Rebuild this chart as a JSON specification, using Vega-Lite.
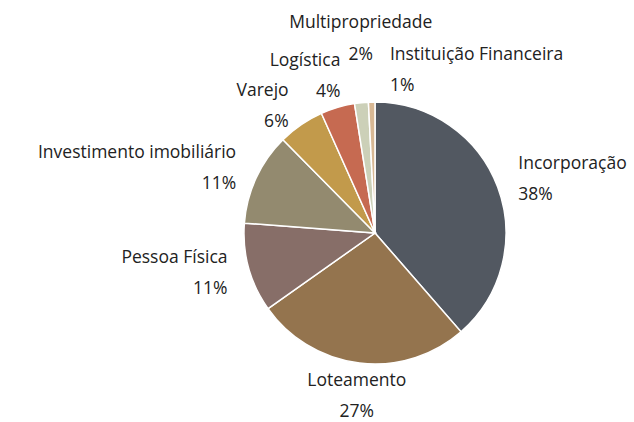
{
  "$schema": "https://vega.github.io/schema/vega-lite/v6.json",
  "width": 518,
  "height": 378,
  "autosize": {"type": "none"},
  "padding": {"left": 116, "top": 44, "right": 0, "bottom": 0},
  "background": "white",
  "config": {"view": {"stroke": null}},
  "data": {
    "values": [
      {"category": "Incorporação", "value": 38.6, "label": "Incorporação\n38%"},
      {"category": "Loteamento", "value": 26.6, "label": "Loteamento\n27%"},
      {"category": "Pessoa Física", "value": 11.0, "label": "Pessoa Física\n11%"},
      {"category": "Investimento imobiliário", "value": 11.4, "label": "Investimento imobiliário\n11%"},
      {"category": "Varejo", "value": 5.7, "label": "Varejo\n6%"},
      {"category": "Logística", "value": 4.2, "label": "Logística\n4%"},
      {"category": "Multipropriedade", "value": 1.7, "label": "Multipropriedade\n2%"},
      {"category": "Instituição Financeira", "value": 0.8, "label": "Instituição Financeira\n1%"}
    ]
  },
  "transform": [{"window": [{"op": "row_number", "as": "idx"}]}],
  "encoding": {
    "theta": {"field": "value", "type": "quantitative", "stack": true},
    "order": {"field": "idx", "type": "quantitative"}
  },
  "layer": [
    {
      "mark": {"type": "arc", "outerRadius": 131, "stroke": "white", "strokeWidth": 1.5},
      "encoding": {
        "color": {
          "field": "category",
          "type": "nominal",
          "legend": null,
          "scale": {
            "domain": ["Incorporação", "Loteamento", "Pessoa Física", "Investimento imobiliário", "Varejo", "Logística", "Multipropriedade", "Instituição Financeira"],
            "range": ["#525861", "#94744e", "#876e68", "#938a6f", "#c29a4b", "#c66a51", "#ccd0b8", "#d8b894"]
          }
        }
      }
    },
    {
      "mark": {
        "type": "text",
        "radius": 153,
        "font": "Open Sans",
        "fontSize": 17.5,
        "lineHeight": 31,
        "lineBreak": "\n",
        "color": "#222222",
        "baseline": "middle",
        "dx": {"expr": "cos(scale('theta', (datum.value_start + datum.value_end) / 2)) > 0.95 ? 9 : 0"},
        "dy": {"expr": "cos(scale('theta', (datum.value_start + datum.value_end) / 2)) < -0.9 ? -4 : (cos(scale('theta', (datum.value_start + datum.value_end) / 2)) > 0.95 ? -25 : -15.5)"},
        "align": {"expr": "sin(scale('theta', (datum.value_start + datum.value_end) / 2)) > 0.2 ? 'left' : (sin(scale('theta', (datum.value_start + datum.value_end) / 2)) < -0.2 ? 'right' : 'center')"}
      },
      "encoding": {
        "text": {"condition": {"test": "datum.value >= 3", "field": "label"}, "value": ""}
      }
    },
    {
      "mark": {
        "type": "text",
        "radius": 196,
        "dx": 6,
        "dy": -15.5,
        "font": "Open Sans",
        "fontSize": 17.5,
        "lineHeight": 32,
        "lineBreak": "\n",
        "color": "#222222",
        "align": "center",
        "baseline": "middle"
      },
      "encoding": {
        "text": {"condition": {"test": "datum.category == 'Multipropriedade'", "field": "label"}, "value": ""}
      }
    },
    {
      "mark": {
        "type": "text",
        "radius": 163,
        "dx": 19,
        "dy": -15.5,
        "font": "Open Sans",
        "fontSize": 17.5,
        "lineHeight": 31,
        "lineBreak": "\n",
        "color": "#222222",
        "align": "left",
        "baseline": "middle"
      },
      "encoding": {
        "text": {"condition": {"test": "datum.category == 'Instituição Financeira'", "field": "label"}, "value": ""}
      }
    }
  ]
}
